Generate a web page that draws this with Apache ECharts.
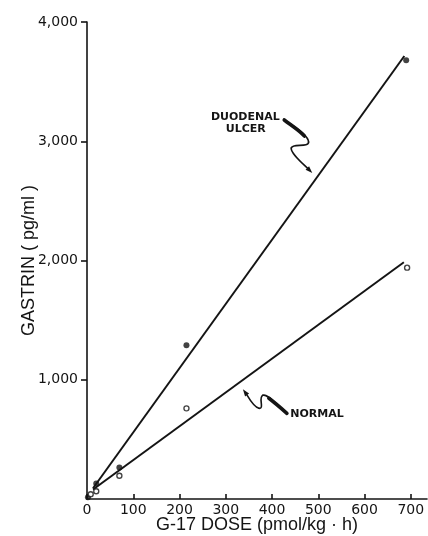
<!DOCTYPE html>
<html><head><meta charset="utf-8">
<script src="https://cdn.jsdelivr.net/npm/echarts@6/dist/echarts.min.js"></script>
<style>html,body{margin:0;padding:0;background:#fff}#c{width:428px;height:536px}</style>
</head><body><div id="c"></div>
<script>
// Data
const xTicks = [0, 100, 200, 300, 400, 500, 600, 700];
const yTicks = [1000, 2000, 3000, 4000];
const ulcerPoints = [[2, 15], [20, 130], [70, 265], [215, 1290], [690, 3680]];
const normalPoints = [[8, 40], [20, 65], [70, 195], [215, 760], [692, 1940]];
const ulcerFit = [[13, 90], [686, 3715]];
const normalFit = [[13, 80], [685, 1985]];
const ulcerArrowTip = [487, 2734];
const normalArrowTip = [337, 920];

const INK = '#141414';
const FONT = 'DejaVu Sans';
const TFONT = 'Liberation Sans';
const chart = echarts.init(document.getElementById('c'), null, {renderer: 'canvas'});

chart.setOption({
  animation: false,
  backgroundColor: '#fff',
  grid: {left: 87, right: 1, top: 22, bottom: 37, containLabel: false, outerBoundsMode: 'none'},
  xAxis: {
    type: 'value', min: 0, max: 735,
    name: 'G-17 DOSE (pmol/kg · h)', nameLocation: 'middle', nameGap: 17, nameMoveOverlap: false,
    nameTextStyle: {fontFamily: TFONT, fontSize: 18, color: INK},
    axisLine: {show: true, onZero: false, lineStyle: {color: INK, width: 1.6}},
    axisTick: {show: true, inside: true, length: 5, customValues: xTicks, lineStyle: {color: INK, width: 1.6}},
    axisLabel: {customValues: xTicks, margin: 4, fontFamily: FONT, fontSize: 14, color: INK},
    splitLine: {show: false}
  },
  yAxis: {
    type: 'value', min: 0, max: 4000,
    name: 'GASTRIN ( pg/ml )', nameLocation: 'middle', nameGap: 49, nameRotate: 90, nameMoveOverlap: false,
    nameTextStyle: {fontFamily: TFONT, fontSize: 18, color: INK},
    axisLine: {show: true, onZero: false, lineStyle: {color: INK, width: 1.6}},
    axisTick: {show: true, inside: false, length: 6, customValues: yTicks, lineStyle: {color: INK, width: 1.6}},
    axisLabel: {customValues: yTicks, margin: 9, fontFamily: FONT, fontSize: 14, color: INK,
      formatter: v => v.toLocaleString('en-US')},
    splitLine: {show: false}
  },
  series: [
    {type: 'line', data: ulcerFit, symbol: 'none', lineStyle: {color: INK, width: 2}, z: 2},
    {type: 'line', data: normalFit, symbol: 'none', lineStyle: {color: INK, width: 2}, z: 2},
    {type: 'scatter', data: ulcerPoints, symbol: 'circle', symbolSize: 6, itemStyle: {color: INK}, z: 3},
    {type: 'scatter', data: normalPoints, symbol: 'circle', symbolSize: 5,
      itemStyle: {color: '#fff', borderColor: INK, borderWidth: 1.4}, z: 3}
  ]
});

const du = chart.convertToPixel({gridIndex: 0}, ulcerArrowTip);
const no = chart.convertToPixel({gridIndex: 0}, normalArrowTip);
const lblFont = 'bold 11px "' + FONT + '"';

function bz(p, w) {
  return {type: 'bezierCurve',
    shape: {x1: p[0], y1: p[1], cpx1: p[2], cpy1: p[3], cpx2: p[4], cpy2: p[5], x2: p[6], y2: p[7]},
    style: {stroke: INK, lineWidth: w, lineCap: 'round', fill: null}};
}
function txt(t, x, y, align) {
  return {type: 'text', x: x, y: y, style: {text: t, font: lblFont, fill: INK,
    align: align, verticalAlign: 'middle', textAlign: align, textVerticalAlign: 'middle'}};
}

chart.setOption({
  graphic: [
    {type: 'group', x: du[0], y: du[1], children: [
      bz([-28.7, -53.7, -18, -46, -4, -38, -3.7, -31], 1.6),
      bz([-3.7, -31, -3.5, -25, -20, -30, -21, -25], 1.6),
      bz([-21, -25, -22, -20, -10, -10, -3, -3], 1.6),
      bz([-28, -53, -20, -47, -12, -42, -8, -37], 3.6),
      {type: 'polygon', shape: {points: [[0, 0], [-6.7, -3.2], [-3.2, -6.7]]}, style: {fill: INK}},
      txt('DUODENAL', -67, -56, 'center'),
      txt('ULCER', -66.5, -44, 'center')
    ]},
    {type: 'group', x: no[0], y: no[1], children: [
      bz([44, 24, 32, 14, 24, 4, 20, 6], 1.6),
      bz([20, 6, 15, 8, 22, 20, 16, 19], 1.6),
      bz([16, 19, 11, 18, 6, 9, 3, 4], 1.6),
      bz([44, 24, 36, 17, 30, 12, 26, 9], 3.6),
      {type: 'polygon', shape: {points: [[0, 0], [6.2, 4.1], [2.2, 7.1]]}, style: {fill: INK}},
      txt('NORMAL', 47.3, 24.7, 'left')
    ]}
  ]
});
</script></body></html>
